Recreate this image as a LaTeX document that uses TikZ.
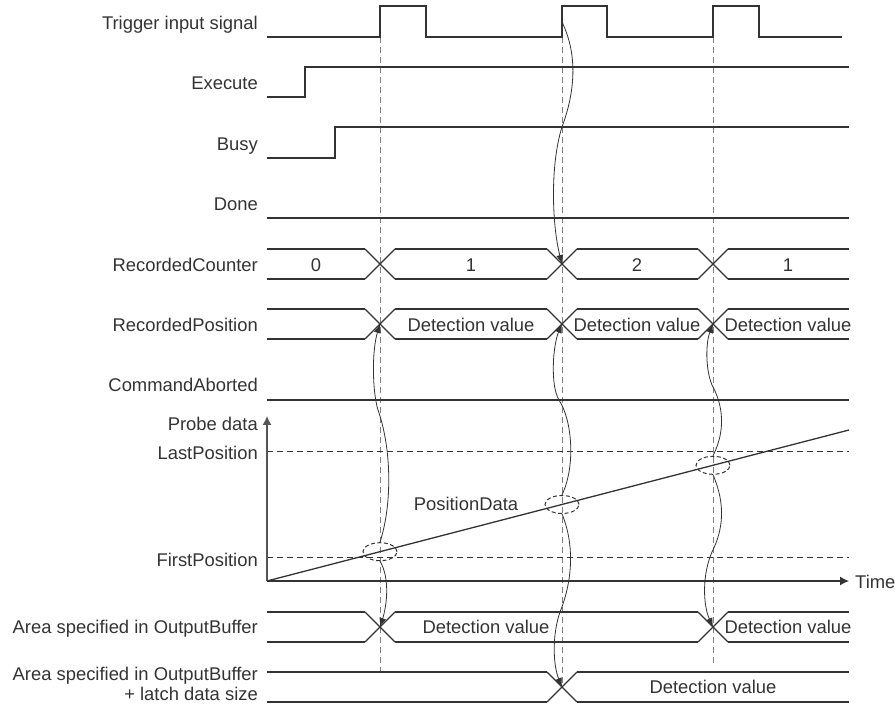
\documentclass[tikz,border=0pt]{standalone}
\usepackage{fontspec}
\setmainfont{Liberation Sans}
\usetikzlibrary{arrows.meta,shapes.geometric}
\definecolor{sigline}{HTML}{333333}
\definecolor{guidegray}{HTML}{808080}
\definecolor{axisgray}{HTML}{555555}
\newcommand{\busX}[2]{\draw[sig] (#1-15,#2-15) -- (#1+15,#2+15) (#1-15,#2+15) -- (#1+15,#2-15);}
\newcommand{\busRun}[4]{\draw[sig] (#3,#1) -- (#4,#1) (#3,#2) -- (#4,#2);}

\begin{document}
\begin{tikzpicture}[x=1pt,y=-1pt,
  sig/.style={draw=sigline, line width=1.3pt, line join=miter},
  lbl/.style={font=\fontsize{18.4}{22}\selectfont, text=sigline, anchor=base east, inner sep=0pt},
  val/.style={font=\fontsize{18.4}{22}\selectfont, text=sigline, anchor=base, inner sep=0pt},
  guide/.style={draw=guidegray, line width=1pt, dash pattern=on 6pt off 4pt},
  level/.style={draw=sigline, line width=1pt, dash pattern=on 6pt off 4pt},
  latch/.style={draw=sigline, line width=0.8pt, -{Latex[length=9pt,width=7pt]}},
  hit/.style={ellipse, draw=sigline, line width=1pt, dash pattern=on 4pt off 2.5pt, minimum width=34pt, minimum height=18pt, inner sep=0pt}]
\useasboundingbox (0,0) rectangle (895,708);
\draw[guide] (380,37) -- (380,675);
\draw[guide] (562,37) -- (562,687);
\draw[guide] (713,37) -- (713,665);
\node[lbl] (lblTrig) at (258,29.5) {Trigger input signal};
\draw[sig] (267,37) -- (380,37) -- (380,6) -- (426,6) -- (426,37) -- (562,37) -- (562,6) -- (607,6) -- (607,37) -- (713,37) -- (713,6) -- (759,6) -- (759,37) -- (842,37);
\node[lbl] (lblExec) at (258,90) {Execute};
\draw[sig] (267,97) -- (305,97) -- (305,67) -- (849,67);
\node[lbl] (lblBusy) at (258,151) {Busy};
\draw[sig] (267,158) -- (335,158) -- (335,127) -- (849,127);
\node[lbl] (lblDone) at (258,211) {Done};
\draw[sig] (267,218) -- (849,218);
\node[lbl] (lblCount) at (258,271.5) {RecordedCounter};
\busRun{249}{279}{267}{365}
\busX{380}{264}
\busRun{249}{279}{395}{547}
\busX{562}{264}
\busRun{249}{279}{577}{698}
\busX{713}{264}
\busRun{249}{279}{728}{849}
\node[val] (cnt0) at (316,271.5) {0};
\node[val] (cnt1) at (471,271.5) {1};
\node[val] (cnt2) at (637,271.5) {2};
\node[val] (cnt3) at (788,271.5) {1};
\node[lbl] (lblPos) at (258,331.5) {RecordedPosition};
\busRun{309}{339}{267}{365}
\busX{380}{324}
\busRun{309}{339}{395}{547}
\busX{562}{324}
\busRun{309}{339}{577}{698}
\busX{713}{324}
\busRun{309}{339}{728}{849}
\node[val] (pos1) at (471,331.5) {Detection value};
\node[val] (pos2) at (637,331.5) {Detection value};
\node[val] (pos3) at (788,331.5) {Detection value};
\node[lbl] (lblAbort) at (258,392) {CommandAborted};
\draw[sig] (267,400) -- (849,400);
\coordinate (origin) at (267,581);
\coordinate (ytop) at (267,416);
\coordinate (tend) at (849,581);
\node[lbl] (lblProbe) at (258,431) {Probe data};
\node[lbl] (lblLast) at (258,460) {LastPosition};
\node[lbl] (lblFirst) at (258,566) {FirstPosition};
\draw[level] (267,452) -- (849,452);
\draw[level] (267,558) -- (849,558);
\draw[draw=axisgray, line width=1.3pt, -{Latex[length=9pt,width=9pt]}] (origin) -- (ytop);
\draw[sig, -{Latex[length=9pt,width=9pt]}] (origin) -- (tend);
\node[val, anchor=base west] (time) at (855,588) {Time};
\draw[sig] (origin) -- (849,430);
\node[val] (posData) at (466,511) {PositionData};
\node[hit] (pd1) at (380,551.7) {};
\node[hit] (pd2) at (562,504.5) {};
\node[hit] (pd3) at (713,465.3) {};
\node[lbl] (lblBuf) at (258,633.5) {Area specified in OutputBuffer};
\busRun{612}{642}{267}{365}
\busX{380}{627}
\busRun{612}{642}{395}{698}
\busX{713}{627}
\busRun{612}{642}{728}{849}
\node[val] (buf1) at (486,633.5) {Detection value};
\node[val] (buf2) at (788,633.5) {Detection value};
\node[lbl] (lblBufA) at (258,680) {Area specified in OutputBuffer};
\node[lbl] (lblBufB) at (258,700) {+ latch data size};
\busRun{672}{702}{267}{547}
\busX{562}{687}
\busRun{672}{702}{577}{849}
\node[val] (buf3) at (713,693.5) {Detection value};
\coordinate (tr2) at (562,22);
\coordinate (rc2) at (562,264);
\coordinate (rp1) at (380,324);
\coordinate (rp2) at (562,324);
\coordinate (rp3) at (713,324);
\coordinate (ob1) at (380,627);
\coordinate (ob3) at (713,627);
\coordinate (lb2) at (562,687);
\draw[latch] (tr2) .. controls (578,55) and (575,92) .. (562,127) .. controls (550,165) and (552,225) .. (rc2);
\draw[latch] (pd1.north) .. controls (392,505) and (392,450) .. (378,410) .. controls (372,390) and (372,350) .. (rp1);
\draw[latch] (pd1.south) .. controls (390,578) and (387,605) .. (ob1);
\draw[latch] (pd2.north) .. controls (576,465) and (572,420) .. (559,400) .. controls (550,385) and (553,345) .. (rp2);
\draw[latch] (pd2.south) .. controls (576,548) and (571,585) .. (560,612) .. controls (552,635) and (553,665) .. (lb2);
\draw[latch] (pd3.north) .. controls (726,430) and (723,405) .. (712,385) .. controls (705,368) and (706,342) .. (rp3);
\draw[latch] (pd3.south) .. controls (726,505) and (723,530) .. (712,552) .. controls (702,575) and (703,605) .. (ob3);
\end{tikzpicture}
\end{document}
